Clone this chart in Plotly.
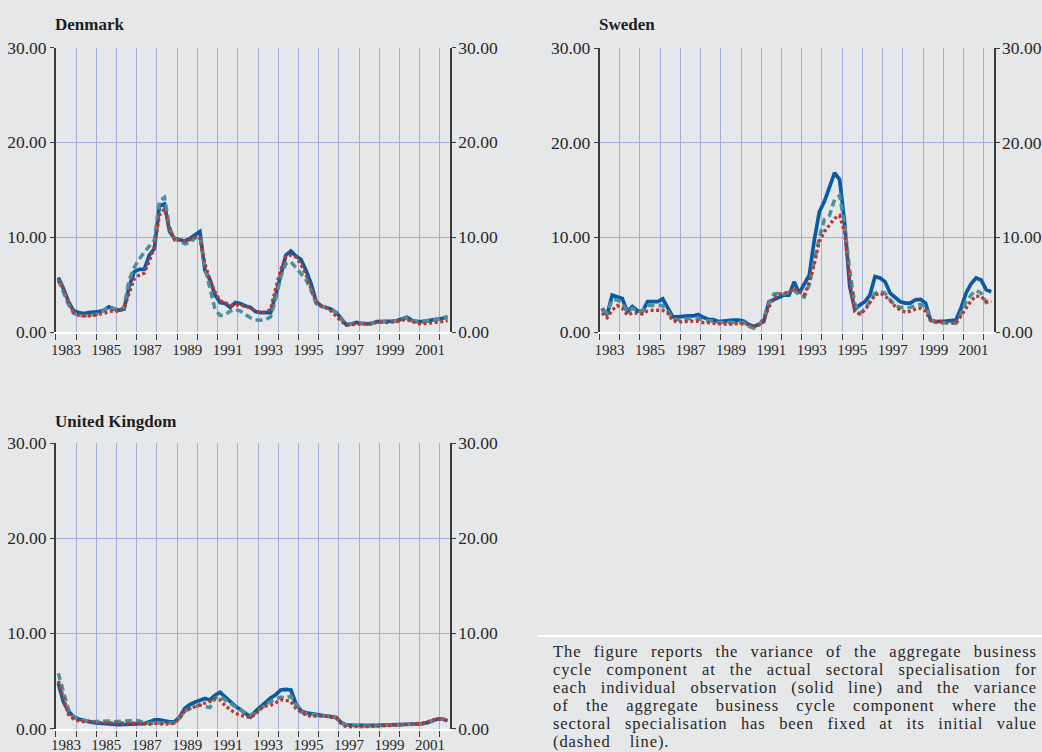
import plotly.graph_objects as go

W, H = 1042, 752

# ---------------- data (quarterly, 1983Q1 .. 2002Q2) ----------------
quarters = [f"{y}Q{q}" for y in range(1983, 2003) for q in range(1, 5)][:78]

denmark_solid = [5.75, 4.6, 3.2, 2.25, 2.05, 1.95, 2.05, 2.1, 2.15, 2.3,
                 2.65, 2.4, 2.3, 2.4, 4.8, 6.35, 6.6, 6.6, 8.1, 8.8,
                 13.3, 13.5, 10.6, 9.85, 9.7, 9.6, 9.85, 10.2, 10.6, 6.5,
                 5.5, 3.9, 3.1, 3.0, 2.6, 3.1, 3.0, 2.75, 2.6, 2.15,
                 2.05, 2.05, 2.05, 3.9, 6.2, 8.1, 8.55, 8.0, 7.65, 6.5,
                 5.1, 3.2, 2.75, 2.6, 2.4, 2.05, 1.35, 0.75, 0.85, 1.0,
                 0.9, 0.85, 0.9, 1.1, 1.1, 1.1, 1.15, 1.2, 1.35, 1.55,
                 1.2, 1.1, 1.1, 1.15, 1.25, 1.35, 1.45, 1.6]
denmark_dashed = [5.5, 4.3, 2.9, 2.0, 1.75, 1.7, 1.75, 1.8, 1.9, 2.3,
                  2.7, 2.5, 2.3, 2.6, 5.5, 6.8, 7.7, 8.4, 9.0, 9.7,
                  13.8, 14.2, 11.0, 9.8, 9.6, 9.3, 9.4, 9.9, 10.1, 6.8,
                  4.6, 2.4, 1.75, 1.8, 2.2, 2.4, 2.2, 1.8, 1.5, 1.3,
                  1.25, 1.3, 1.6, 3.5, 5.8, 7.2, 7.4, 6.8, 6.2, 5.5,
                  4.4, 3.0, 2.7, 2.6, 2.4, 2.0, 1.3, 0.75, 0.85, 1.0,
                  0.9, 0.85, 0.9, 1.1, 1.1, 1.1, 1.15, 1.2, 1.35, 1.5,
                  1.2, 1.1, 1.1, 1.15, 1.25, 1.35, 1.45, 1.6]
denmark_dotted = [5.4, 4.6, 3.2, 2.1, 1.75, 1.7, 1.7, 1.75, 1.85, 1.95,
                  2.1, 2.25, 2.15, 2.5, 4.1, 5.6, 6.0, 6.2, 7.5, 9.0,
                  12.3, 13.0, 11.0, 9.7, 9.7, 9.6, 9.7, 10.0, 9.9, 7.2,
                  5.5, 4.2, 3.3, 3.1, 2.8, 2.85, 2.85, 2.7, 2.55, 2.2,
                  2.05, 2.1, 2.4, 4.6, 6.6, 7.9, 8.1, 7.9, 7.1, 6.0,
                  4.5, 3.2, 2.7, 2.55, 2.2, 1.7, 1.1, 0.75, 0.8, 0.85,
                  0.9, 0.9, 0.85, 1.0, 1.05, 1.0, 1.05, 1.1, 1.25, 1.3,
                  1.1, 0.9, 0.85, 0.9, 0.95, 1.05, 1.1, 1.2]

sweden_solid = [2.5, 1.8, 3.9, 3.75, 3.55, 2.15, 2.7, 2.25, 2.15, 3.2,
                3.2, 3.2, 3.5, 2.6, 1.6, 1.6, 1.7, 1.7, 1.7, 1.85,
                1.55, 1.35, 1.3, 1.1, 1.15, 1.25, 1.25, 1.25, 1.15, 0.8,
                0.55, 0.8, 1.1, 3.2, 3.45, 3.65, 3.9, 3.9, 5.3, 4.1,
                5.0, 6.0, 9.75, 12.7, 13.8, 15.4, 16.8, 16.1, 11.5, 4.8,
                2.4, 2.85, 3.2, 3.9, 5.85, 5.7, 5.3, 4.1, 3.65, 3.2,
                3.05, 3.05, 3.4, 3.45, 3.05, 1.25, 1.1, 1.1, 1.15, 1.2,
                1.25, 2.5, 4.1, 5.1, 5.7, 5.5, 4.45, 4.25]
sweden_dashed = [2.3, 2.0, 3.4, 3.4, 3.0, 2.1, 2.5, 2.2, 2.2, 2.8,
                 2.8, 2.8, 2.8, 2.2, 1.35, 1.3, 1.3, 1.4, 1.4, 1.45,
                 1.25, 1.2, 1.15, 1.0, 1.0, 1.0, 1.05, 1.05, 1.0, 0.6,
                 0.4, 0.7, 1.45, 3.0, 4.0, 4.1, 4.0, 4.2, 4.4, 3.9,
                 3.7, 5.0, 7.5, 10.0, 11.9, 12.3, 14.0, 14.4, 11.3, 6.5,
                 3.0, 2.0, 2.4, 3.2, 4.1, 4.3, 4.1, 3.4, 2.8, 2.6,
                 2.6, 2.6, 2.8, 2.9, 2.7, 1.3, 1.0, 1.0, 1.0, 0.95,
                 0.9, 1.9, 3.2, 3.9, 4.4, 4.1, 3.1, 3.3]
sweden_dotted = [2.0, 1.5, 2.3, 2.8, 2.5, 1.8, 2.0, 2.0, 1.9, 2.2,
                 2.3, 2.3, 2.3, 2.0, 1.2, 1.05, 1.1, 1.15, 1.15, 1.15,
                 1.0, 1.0, 0.9, 0.85, 0.85, 0.8, 0.85, 0.9, 0.85, 0.75,
                 0.65, 0.8, 1.3, 2.6, 3.6, 4.0, 4.1, 4.2, 4.6, 4.2,
                 3.9, 5.3, 7.2, 9.6, 10.6, 11.3, 12.0, 12.3, 10.5, 5.5,
                 2.15, 1.9, 2.3, 3.1, 3.9, 4.1, 3.8, 3.3, 2.7, 2.3,
                 2.1, 2.2, 2.4, 2.5, 2.2, 1.2, 1.1, 1.1, 1.0, 1.0,
                 0.9, 1.7, 2.5, 3.3, 3.8, 3.75, 3.2, 3.2]

uk_solid = [4.75, 2.8, 1.8, 1.25, 1.0, 0.85, 0.72, 0.62, 0.55, 0.5,
            0.47, 0.43, 0.4, 0.42, 0.45, 0.45, 0.5, 0.52, 0.7, 0.92,
            0.9, 0.75, 0.7, 0.72, 1.2, 2.1, 2.5, 2.75, 3.0, 3.15,
            3.0, 3.5, 3.8, 3.3, 2.8, 2.35, 2.0, 1.6, 1.2, 1.8,
            2.3, 2.75, 3.2, 3.55, 4.05, 4.1, 4.05, 2.6, 1.85, 1.65,
            1.55, 1.45, 1.4, 1.3, 1.25, 1.15, 0.6, 0.38, 0.35, 0.33,
            0.32, 0.3, 0.3, 0.32, 0.36, 0.38, 0.4, 0.42, 0.42, 0.42,
            0.43, 0.45, 0.5, 0.62, 0.8, 1.0, 1.0, 0.8]
uk_dashed = [5.8, 3.8, 2.0, 1.2, 0.95, 0.85, 0.75, 0.72, 0.75, 0.82,
             0.8, 0.7, 0.75, 0.8, 0.78, 0.85, 0.8, 0.6, 0.55, 0.55,
             0.55, 0.55, 0.55, 0.6, 1.1, 1.8, 2.1, 2.3, 2.45, 2.3,
             2.2, 3.2, 3.4, 3.0, 2.6, 2.3, 1.95, 1.7, 1.4, 1.6,
             2.1, 2.5, 2.85, 3.1, 3.3, 3.2, 3.4, 2.5, 1.75, 1.55,
             1.5, 1.4, 1.35, 1.3, 1.25, 1.15, 0.6, 0.35, 0.3, 0.3,
             0.28, 0.27, 0.28, 0.3, 0.34, 0.36, 0.38, 0.4, 0.4, 0.4,
             0.42, 0.45, 0.5, 0.65, 0.85, 1.0, 1.0, 0.8]
uk_dotted = [5.0, 3.2, 1.5, 1.0, 0.8, 0.72, 0.68, 0.62, 0.6, 0.6,
             0.6, 0.6, 0.6, 0.62, 0.62, 0.6, 0.55, 0.5, 0.45, 0.55,
             0.5, 0.45, 0.5, 0.55, 1.1, 1.8, 2.1, 2.3, 2.5, 2.7,
             2.85, 3.15, 3.0, 2.4, 2.0, 1.6, 1.4, 1.25, 1.15, 1.5,
             2.1, 2.35, 2.45, 2.7, 3.0, 2.95, 2.85, 2.1, 1.7, 1.4,
             1.3, 1.3, 1.3, 1.3, 1.2, 1.1, 0.5, 0.15, 0.15, 0.2,
             0.15, 0.15, 0.2, 0.25, 0.3, 0.35, 0.37, 0.37, 0.4, 0.42,
             0.44, 0.5, 0.55, 0.7, 0.85, 1.0, 1.0, 0.85]

countries = ["Denmark", "Sweden", "United Kingdom"]
year_labels = [str(y) for y in range(1983, 2003, 2)]
y_ticks = [0, 10, 20, 30]

caption_lines = [
    "The figure reports the variance of the aggregate business",
    "cycle component at the actual sectoral specialisation for",
    "each individual observation (solid line) and the variance",
    "of the aggregate business cycle component where the",
    "sectoral specialisation has been fixed at its initial value",
    "(dashed line).",
]

# ---------------- styles ----------------
BG = "#e6e7e9"
GRID = "#a3aedb"
AXIS = "#3a3a3a"
TXT = "#262626"
C_SOLID = "#0b5aa6"
C_DASH = "#4d8f9b"
C_DOT = "#b6392c"
SERIF = "Liberation Serif"


def qpos(label):
    return int(label[:4]) + (int(label[5]) - 1) * 0.25 + 0.125


xq = [qpos(q) for q in quarters]

# panel geometry in pixels: (left, right, top, bottom)
panels = [
    (55.8, 450.1, 47.5, 332.0),
    (599.5, 993.8, 48.0, 332.0),
    (55.8, 450.1, 443.0, 728.5),
]
title_pos = [(53, 25), (597, 25), (53, 421)]
xlabel_standoff = [3, 3, 1]
series = [
    (denmark_solid, denmark_dashed, denmark_dotted),
    (sweden_solid, sweden_dashed, sweden_dotted),
    (uk_solid, uk_dashed, uk_dotted),
]

fig = go.Figure()
layout = dict(
    width=W, height=H, paper_bgcolor=BG, plot_bgcolor=BG,
    margin=dict(l=0, r=0, t=0, b=0, pad=0, autoexpand=False), showlegend=False,
    font=dict(family=SERIF, color=TXT),
)

annotations = []
shapes = []

for k, (name, (L, R, T, B), (sol, das, dot)) in enumerate(zip(countries, panels, series)):
    xa = "x" if k == 0 else f"x{k + 1}"
    ya_left = 2 * k + 1
    ya_right = 2 * k + 2
    yl = "y" if ya_left == 1 else f"y{ya_left}"
    yr = f"y{ya_right}"
    xkey = "xaxis" if k == 0 else f"xaxis{k + 1}"
    ylkey = "yaxis" if ya_left == 1 else f"yaxis{ya_left}"
    yrkey = f"yaxis{ya_right}"

    fig.add_trace(go.Scatter(x=xq, y=sol, mode="lines", xaxis=xa, yaxis=yl,
                             line=dict(color=C_SOLID, width=3.7), name=name + " actual"))
    fig.add_trace(go.Scatter(x=xq, y=das, mode="lines", xaxis=xa, yaxis=yl,
                             line=dict(color=C_DASH, width=3.5, dash="7px,4px"),
                             name=name + " fixed"))
    fig.add_trace(go.Scatter(x=xq, y=dot, mode="lines", xaxis=xa, yaxis=yr,
                             line=dict(color=C_DOT, width=3.3, dash="3px,2.6px"),
                             name=name + " dotted"))

    xd = [L / W, R / W]
    yd = [1 - B / H, 1 - T / H]
    layout[xkey] = dict(
        domain=xd, anchor=yl, range=[1983, 2002.5], automargin=False,
        tickvals=[int(s) + 0.5 for s in year_labels], ticktext=year_labels,
        ticks="", showgrid=False, zeroline=False,
        showline=True, linecolor="white", linewidth=2,
        tickfont=dict(family=SERIF, size=15, color=TXT),
        ticklabelstandoff=xlabel_standoff[k],
        minor=dict(tickvals=list(range(1983, 2003)), ticks="outside", ticklen=6,
                   tickwidth=1.3, tickcolor=AXIS, showgrid=True,
                   gridcolor=GRID, gridwidth=1),
    )
    common_y = dict(range=[0, 30], tickvals=y_ticks, tickformat=".2f",
                    zeroline=False, showline=True, linecolor=AXIS, linewidth=1.5,
                    ticks="outside", ticklen=4, tickcolor=AXIS, automargin=False,
                    tickfont=dict(family=SERIF, size=17.5, color=TXT))
    layout[ylkey] = dict(domain=yd, anchor=xa, showgrid=True, gridcolor=GRID,
                         gridwidth=1, **common_y)
    layout[yrkey] = dict(overlaying=yl, anchor=xa, side="right", showgrid=False,
                         ticklabelstandoff=-1, **common_y)

    tx, ty = title_pos[k]
    annotations.append(dict(
        text=f"<b>{name}</b>", x=tx / W, y=1 - ty / H, xref="paper", yref="paper",
        xanchor="left", yanchor="middle", showarrow=False,
        font=dict(family=SERIF, size=17, color="#1e1e1e")))

# ---------------- caption (justified) ----------------
TIMES = {'a': 444, 'b': 500, 'c': 444, 'd': 500, 'e': 444, 'f': 333, 'g': 500,
         'h': 500, 'i': 278, 'j': 278, 'k': 500, 'l': 278, 'm': 778, 'n': 500,
         'o': 500, 'p': 500, 'q': 500, 'r': 333, 's': 389, 't': 278, 'u': 500,
         'v': 500, 'w': 722, 'x': 500, 'y': 500, 'z': 444, ' ': 250, '(': 333,
         ')': 333, '.': 250, 'T': 611}
CAP_FS = 16.5
CAP_LS = 0.9
CAP_LEFT, CAP_RIGHT = 553.0, 1037.0
CAP_Y0, CAP_DY = 651.7, 18.0

for j, line in enumerate(caption_lines):
    nat = sum(TIMES.get(c, 500) for c in line) * CAP_FS / 1000 + CAP_LS * len(line)
    gaps = line.count(" ")
    if j < len(caption_lines) - 1:
        ws = (CAP_RIGHT - CAP_LEFT - nat) / gaps
    else:
        ws = 14
    annotations.append(dict(
        text=f'<span style="letter-spacing:{CAP_LS}px;word-spacing:{ws:.2f}px">{line}</span>',
        x=(CAP_LEFT - 2) / W, y=1 - (CAP_Y0 + j * CAP_DY) / H,
        xref="paper", yref="paper", xanchor="left", yanchor="middle",
        showarrow=False, align="left",
        font=dict(family=SERIF, size=CAP_FS, color=TXT)))

shapes.append(dict(type="line", xref="paper", yref="paper",
                   x0=538 / W, x1=1.0, y0=1 - 636 / H, y1=1 - 636 / H,
                   line=dict(color="white", width=2)))

layout["annotations"] = annotations
layout["shapes"] = shapes
fig.update_layout(**layout)
fig.write_html(
    "out.html",
    config={"displayModeBar": False},
    post_script="document.body.style.margin='0';document.body.style.overflow='hidden';",
)
